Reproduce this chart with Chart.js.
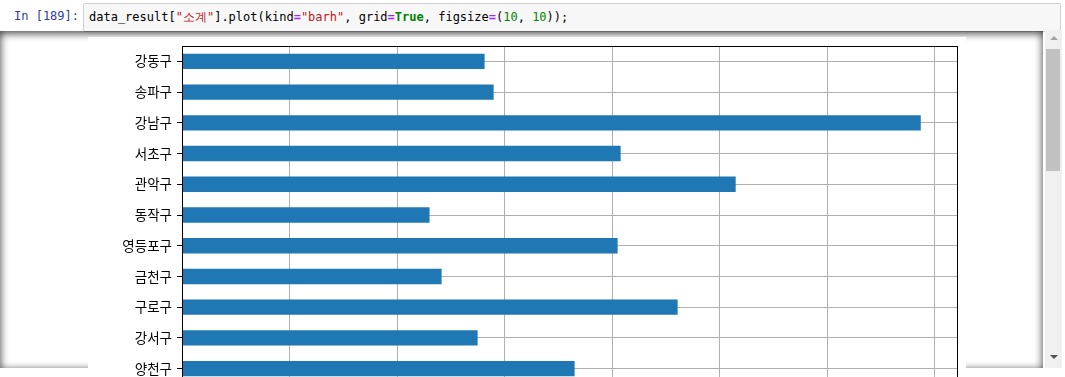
<!DOCTYPE html>
<html>
<head>
<meta charset="utf-8">
<script src="https://cdn.jsdelivr.net/npm/chart.js@4"></script>
<style>
  html, body { margin: 0; padding: 0; background: #fff; overflow: hidden; width: 1065px; height: 377px; }
  .prompt { position: absolute; left: 14px; top: 9px; font: 12px "DejaVu Sans Mono", monospace; color: #303f9f; }
  .code-box { position: absolute; left: 83px; top: 3px; width: 976px; height: 27px; background: #f7f7f7; border: 1px solid #cfcfcf; border-radius: 2px; }
  .code { position: absolute; left: 5px; top: 5px; font: 12px "DejaVu Sans Mono", monospace; color: #000; white-space: pre; }
  .s { color: #ba2121; }
  .o { color: #aa22ff; font-weight: bold; }
  .k { color: #008000; font-weight: bold; }
  .n { color: #080; }
  .out-scroll { position: absolute; left: 0; top: 31px; width: 1043px; height: 337px; box-shadow: inset 0 2px 8px rgba(0,0,0,0.8); }
  .figure { position: absolute; left: 88px; top: 37px; width: 878px; height: 377px; background: #fff; }
  .scrollbar { position: absolute; left: 1045px; top: 30px; width: 17px; height: 338px; background: #f0f0f0; }
  .thumb { position: absolute; left: 1px; top: 19px; width: 14px; height: 122px; background: #c1c1c1; }
  .arrow-up { position: absolute; left: 5px; top: 6px; width: 0; height: 0; border-left: 4px solid transparent; border-right: 4px solid transparent; border-bottom: 4px solid #a3a3a3; }
  .arrow-down { position: absolute; left: 5px; top: 325px; width: 0; height: 0; border-left: 4px solid transparent; border-right: 4px solid transparent; border-top: 4px solid #505050; }
</style>
</head>
<body>
<div class="prompt">In [189]:</div>
<div class="code-box"><div class="code">data_result[<span class="s">"소계"</span>].plot(kind<span class="o">=</span><span class="s">"barh"</span>, grid<span class="o">=</span><span class="k">True</span>, figsize<span class="o">=</span>(<span class="n">10</span>, <span class="n">10</span>));</div></div>
<div class="out-scroll"></div>
<div class="figure"><canvas id="chart" width="878" height="377"></canvas></div>
<div class="scrollbar"><div class="arrow-up"></div><div class="thumb"></div><div class="arrow-down"></div></div>
<script>
// 구별 CCTV 소계 (visible part of the chart)
const districts = ['강동구', '송파구', '강남구', '서초구', '관악구', '동작구', '영등포구', '금천구', '구로구', '강서구', '양천구'];
const subtotals = [2814, 2898, 6870, 4079, 5149, 2302, 4051, 2414, 4609, 2749, 3651];
const xTicks = [0, 1000, 2000, 3000, 4000, 5000, 6000, 7000];
const xMax = 7207;

// matplotlib style box around the axes
const frameBox = {
  id: 'frameBox',
  afterDraw(chart) {
    const { ctx, chartArea: a } = chart;
    ctx.save();
    ctx.strokeStyle = '#000';
    ctx.lineWidth = 1;
    ctx.strokeRect(Math.round(a.left) + 0.5, Math.round(a.top) + 0.5,
                   Math.round(a.right - a.left), Math.round(a.bottom - a.top));
    ctx.restore();
  }
};

new Chart(document.getElementById('chart'), {
  type: 'bar',
  data: {
    labels: districts,
    datasets: [{
      label: '소계',
      data: subtotals,
      backgroundColor: '#1f77b4',
      borderWidth: 0,
      barPercentage: 0.5,
      categoryPercentage: 1
    }]
  },
  options: {
    indexAxis: 'y',
    responsive: false,
    animation: false,
    layout: { padding: { top: 9, right: 9, left: 0, bottom: 0 } },
    plugins: {
      legend: { display: false },
      tooltip: { enabled: false }
    },
    scales: {
      y: {
        offset: true,
        z: 1,
        grid: { offset: false, color: '#b0b0b0', lineWidth: 1, tickColor: '#000', tickLength: 5 },
        border: { color: '#000', width: 1 },
        ticks: {
          padding: 5,
          color: '#000',
          font: { family: '"Noto Sans CJK KR"', size: 13.5 }
        },
        afterFit(scale) {
          scale.width = 94;
          scale.paddingTop = 0;
          scale.paddingBottom = 0;
        }
      },
      x: {
        min: 0,
        max: xMax,
        z: 1,
        grid: { color: '#b0b0b0', lineWidth: 1, tickColor: '#000', tickLength: 5 },
        border: { color: '#000', width: 1 },
        ticks: {
          color: '#000',
          font: { family: '"DejaVu Sans"', size: 12 }
        },
        afterBuildTicks(scale) {
          scale.ticks = xTicks.map(v => ({ value: v }));
        },
        afterFit(scale) {
          scale.height = 30;
          scale.paddingLeft = 0;
          scale.paddingRight = 0;
        }
      }
    }
  },
  plugins: [frameBox]
});
</script>
</body>
</html>
